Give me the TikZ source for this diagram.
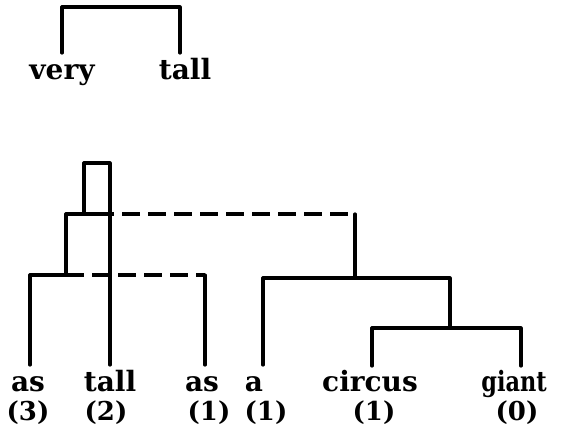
\documentclass[tikz,border=0pt]{standalone}
\usepackage{fontspec}
\newfontfamily\wordfont{DejaVu Serif}
\newfontfamily\narrowfont{DejaVu Serif}[FakeStretch=0.8]
\begin{document}
\begin{tikzpicture}[x=1pt,y=-1pt,
  tree/.style={line width=3.2pt, line cap=round, line join=round, black},
  dashline/.style={line width=3.2pt, dash pattern=on 18pt off 8pt, black},
  word/.style={anchor=base, inner sep=0pt, font=\wordfont\bfseries\fontsize{28}{30}\selectfont},
  narrowword/.style={word, font=\narrowfont\bfseries\fontsize{28}{30}\selectfont},
  num/.style={anchor=base, inner sep=0pt, font=\wordfont\bfseries\fontsize{26}{28}\selectfont}]
\useasboundingbox (0,0) rectangle (565,441);

% top pair
\node[word] (very) at (62,80) {very};
\node[word] (tallA) at (185,80) {tall};
\coordinate (vL) at (62,53);
\coordinate (vR) at (180,53);
\coordinate (vT) at (120,7);
\draw[tree] (vL) |- (vT) -| (vR);

% leaves
\node[word] (w1) at (28,391) {as};
\node[word] (w2) at (110,391) {tall};
\node[word] (w3) at (202,391) {as};
\node[word] (w4) at (254,391) {a};
\node[word] (w5) at (370,391) {circus};
\node[narrowword] (w6) at (514,391) {giant};
\node[num] (n1) at (28,420) {(3)};
\node[num] (n2) at (106,420) {(2)};
\node[num] (n3) at (209,420) {(1)};
\node[num] (n4) at (266,420) {(1)};
\node[num] (n5) at (374,420) {(1)};
\node[num] (n6) at (517,420) {(0)};

\coordinate (l1) at (30,365);
\coordinate (l2) at (110,365);
\coordinate (l3) at (205,365);
\coordinate (l4) at (263,365);
\coordinate (l5) at (372,366);
\coordinate (l6) at (521,366);

% junctions
\coordinate (C1) at (66,275);
\coordinate (C2) at (205,275);
\coordinate (A1) at (84,214);
\coordinate (A2) at (96,214);
\coordinate (Bc) at (355,214);
\coordinate (B) at (355,278);
\coordinate (T) at (97,163);
\coordinate (D) at (450,328);

% as(3) with the other as (dashed link)
\draw[tree] (l1) |- (C1);
\draw[dashline] (C1) -- (C2);
\draw[tree] (C2) -- (l3);
% next level
\draw[tree] (C1) |- (A2);
\draw[dashline] (A2) -- (Bc);
\draw[tree] (Bc) -- (B);
% small box over tall
\draw[tree] (A1) |- (T) -| (l2);
% right part
\draw[tree] (l4) |- (B) -| (D);
\draw[tree] (l5) |- (D) -| (l6);
\end{tikzpicture}
\end{document}
